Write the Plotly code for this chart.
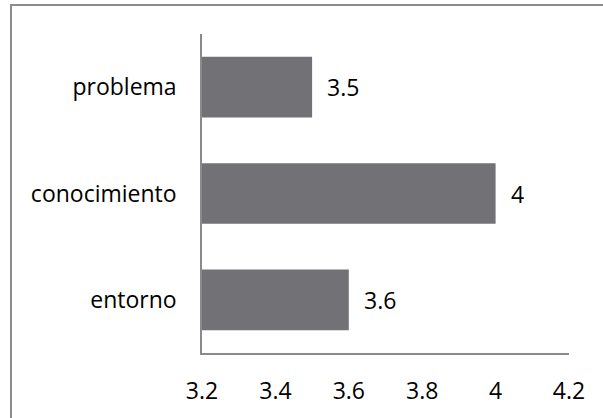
import plotly.graph_objects as go

categories = ["entorno", "conocimiento", "problema"]
values = [3.6, 4.0, 3.5]
tick_vals = [3.2, 3.4, 3.6, 3.8, 4.0, 4.2]
tick_text = ["3.2", "3.4", "3.6", "3.8", "4", "4.2"]
label_text = ["3.6", "4", "3.5"]

W, H = 603, 418
ml, mr, mt, mb = 202, 34, 34, 65
pw, ph = W - ml - mr, H - mt - mb

FONT = "Open Sans"
FS = 23

fig = go.Figure()
fig.add_trace(go.Bar(
    x=values, y=categories, orientation="h",
    marker=dict(color="#727176", line=dict(width=0)),
    width=0.57, base=0,
    hoverinfo="skip",
))

for v, c, t in zip(values, categories, label_text):
    fig.add_annotation(x=v, y=c, text=t, showarrow=False, xanchor="left",
                       xshift=13, font=dict(family=FONT, size=FS, color="#000000"))

def px_x(px):
    return (px - ml) / pw

def px_y(py):
    return (H - mb - py) / ph

fig.add_shape(type="rect", xref="paper", yref="paper",
              x0=px_x(11), x1=px_x(610), y0=px_y(425), y1=px_y(5),
              line=dict(color="#8c8c8c", width=2), fillcolor="rgba(0,0,0,0)")

fig.update_layout(
    width=W, height=H,
    margin=dict(l=ml, r=mr, t=mt, b=mb),
    paper_bgcolor="white", plot_bgcolor="white",
    showlegend=False,
    font=dict(family=FONT, size=FS, color="#000000"),
    xaxis=dict(range=[3.2, 4.2], tickvals=tick_vals, ticktext=tick_text,
               showgrid=False, zeroline=False, showline=True,
               linecolor="#8a8a8a", linewidth=1.5, ticks="",
               ticklabelstandoff=17, tickfont=dict(family=FONT, size=FS)),
    yaxis=dict(categoryorder="array", categoryarray=categories,
               showgrid=False, zeroline=False, showline=True,
               linecolor="#8a8a8a", linewidth=1.5, ticks="",
               ticklabelstandoff=19, tickfont=dict(family=FONT, size=FS)),
)

fig.write_html("out.html")
